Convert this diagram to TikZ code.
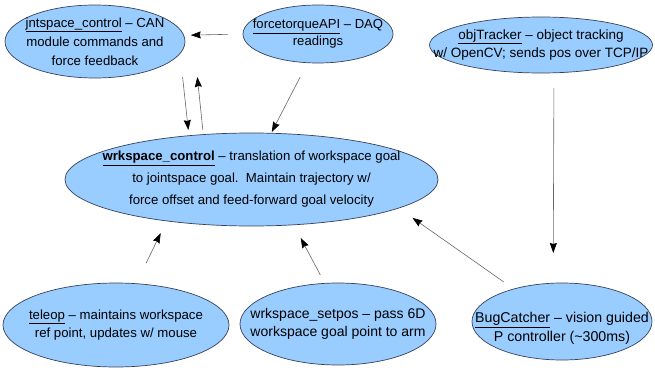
\documentclass[tikz,border=0pt]{standalone}
\usepackage{fontspec}
\setmainfont{Liberation Sans}
\usetikzlibrary{arrows.meta, shapes.geometric}

\definecolor{modfill}{RGB}{153,204,255}
\definecolor{modline}{RGB}{55,65,90}

\begin{document}
\begin{tikzpicture}[x=1pt, y=-1pt,
    modul/.style={ellipse, draw=modline, fill=modfill, line width=0.7pt,
        inner sep=-60pt, outer sep=0pt, align=center},
    flow/.style={draw=black!60, line width=0.6pt,
        -{Stealth[length=10pt, width=7pt, inset=1pt, black]}}]

\useasboundingbox (0,0) rectangle (655,369);

\node[modul, minimum width=180pt, minimum height=73pt,
    font=\fontsize{13.2}{19}\selectfont] (jntspace) at (95,41.5)
    {\underline{jntspace\_control} -- CAN\\module commands and\\force feedback};

\node[modul, minimum width=150pt, minimum height=58pt,
    font=\fontsize{13.1}{17}\selectfont] (forcetorque) at (318,34)
    {\underline{forcetorqueAPI} -- DAQ\\readings};

\node[modul, minimum width=223pt, minimum height=56pt,
    font=\fontsize{13.5}{18.5}\selectfont] (objtracker) at (541,45)
    {\underline{objTracker} -- object tracking\\w/ OpenCV; sends pos over TCP/IP};

\node[modul, minimum width=373pt, minimum height=93pt,
    font=\fontsize{13.2}{22}\selectfont] (wrkspace) at (251.5,179.5)
    {\underline{\textbf{wrkspace\_control}} -- translation of workspace goal\\
     to jointspace goal.\ \ Maintain trajectory w/\\
     force offset and feed-forward goal velocity};

\node[modul, minimum width=226pt, minimum height=84pt,
    font=\fontsize{13.2}{18}\selectfont] (teleop) at (116,325)
    {\underline{teleop} -- maintains workspace\\ref point, updates w/ mouse};

\node[modul, minimum width=196pt, minimum height=82pt,
    font=\fontsize{14}{17.5}\selectfont] (setpos) at (338,324)
    {wrkspace\_setpos -- pass 6D\\workspace goal point to arm};

\node[modul, minimum width=180pt, minimum height=77pt,
    font=\fontsize{14.2}{19}\selectfont] (bugcatcher) at (562,321.5)
    {\rule{0pt}{24pt}\underline{BugCatcher} -- vision guided\\P controller (\textasciitilde300ms)};

\draw[flow, shorten <=15pt, shorten >=7pt] (forcetorque.180) -- (jntspace.4.9);
\draw[flow, shorten <=23.8pt, shorten >=5.75pt] (jntspace.-8.7) -- (wrkspace.145.1);
\draw[flow, shorten <=4.65pt, shorten >=35.7pt] (wrkspace.137.55) -- ([xshift=8.6pt]jntspace.east);
\draw[flow, shorten <=16.15pt, shorten >=1.4pt] (forcetorque.-110) -- (wrkspace.67.8);
\draw[flow, shorten <=15.2pt, shorten >=30.2pt] (objtracker.-65.9) -- (bugcatcher.103.2);
\draw[flow, shorten <=12.45pt, shorten >=16.95pt] (bugcatcher.146.5) -- (wrkspace.-11.1);
\draw[flow, shorten <=22.75pt, shorten >=13.6pt] (teleop.64.9) -- (wrkspace.-154.6);
\draw[flow, shorten <=9.5pt, shorten >=14.95pt] (setpos.108.35) -- (wrkspace.-47.6);

\end{tikzpicture}
\end{document}
